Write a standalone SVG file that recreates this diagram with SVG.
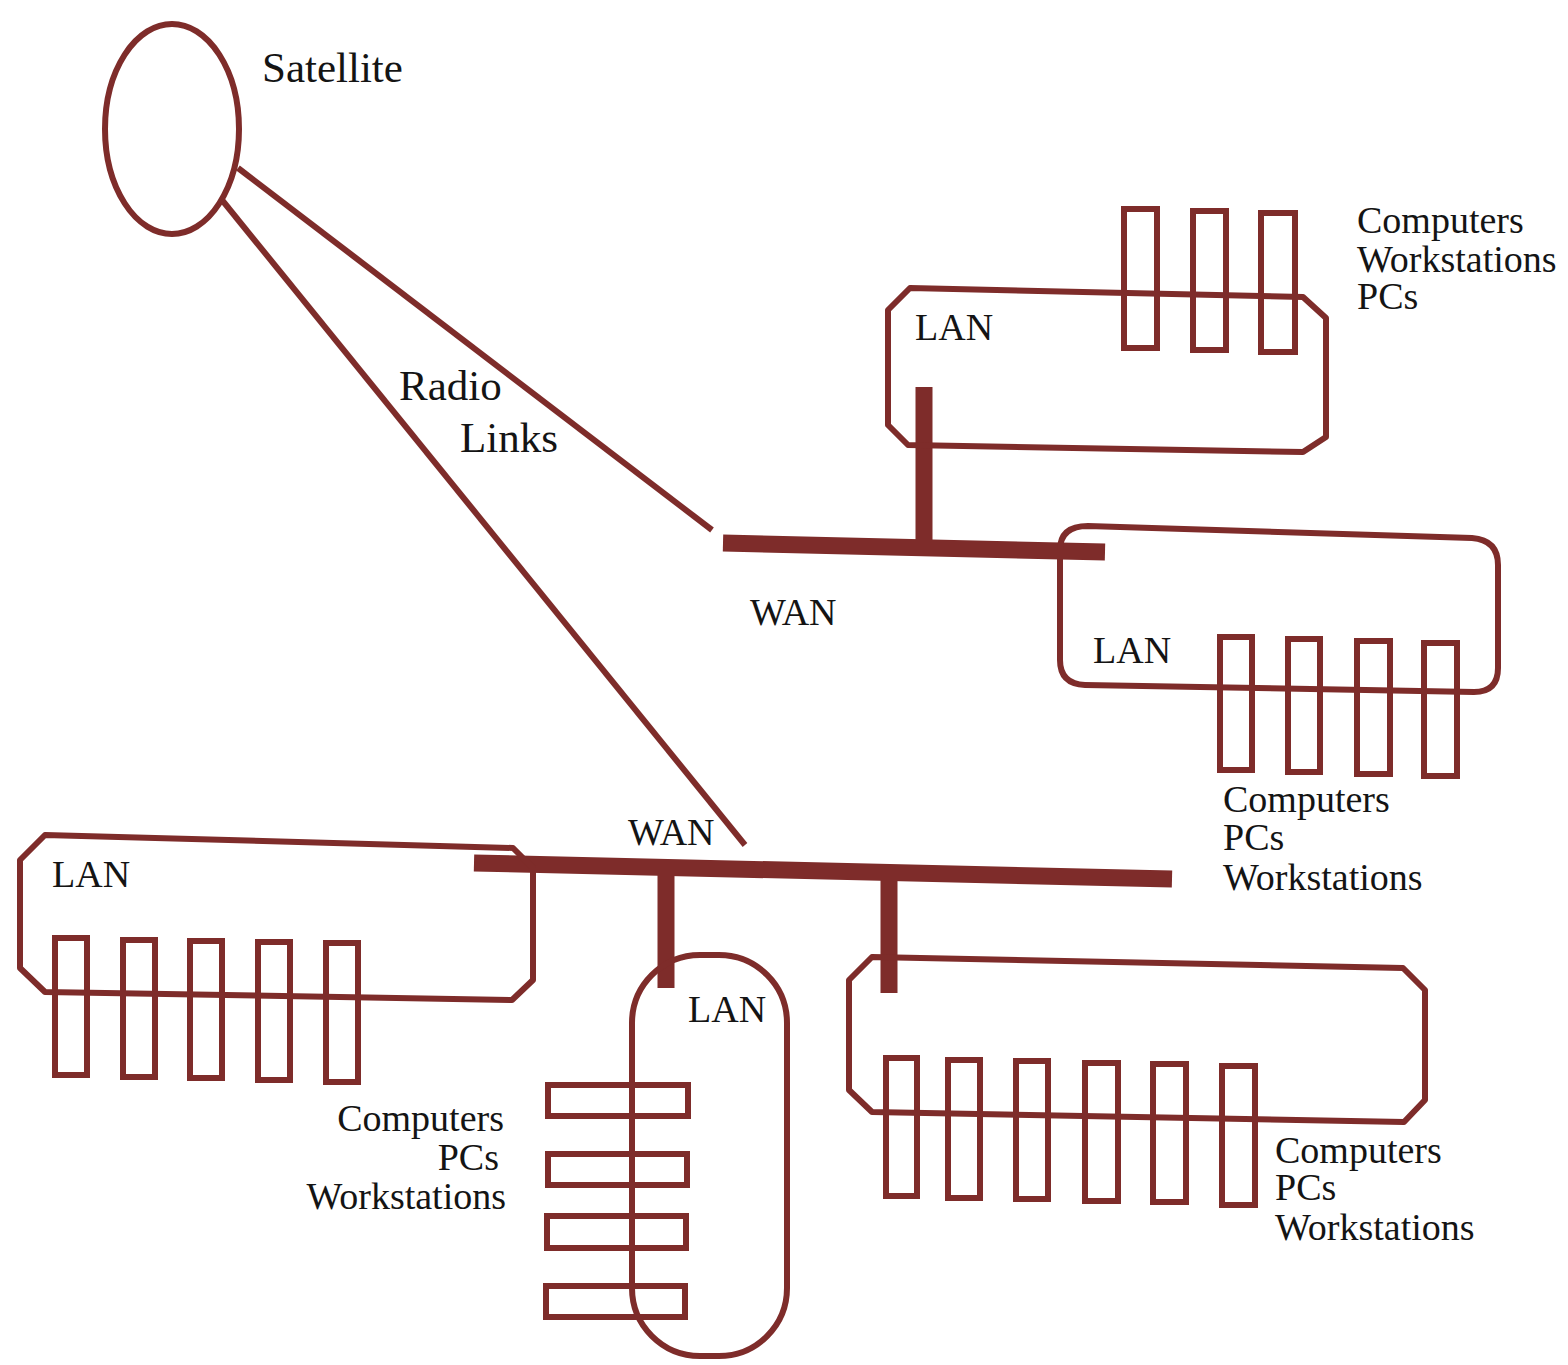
<svg xmlns="http://www.w3.org/2000/svg" width="1568" height="1365" viewBox="0 0 1568 1365">
<style>
.o{fill:none;stroke:#7e2c2a;stroke-width:6;stroke-linejoin:round}
.pc{fill:none;stroke:#7e2c2a;stroke-width:6}
.bar{stroke:#7e2c2a;stroke-width:17;fill:none}
.t{font-family:"Liberation Serif","Times New Roman",serif;font-size:38px;fill:#141414}
.big{font-size:43px}
.e{text-anchor:end}
</style>
<rect width="1568" height="1365" fill="#ffffff"/>
<g id="connectors">
<line class="o" x1="238" y1="168" x2="712" y2="530"/>
<line class="o" x1="222" y1="200" x2="745" y2="845"/>
<line class="bar" x1="723" y1="543" x2="1105" y2="552"/>
<line class="bar" x1="924" y1="387" x2="924" y2="545"/>
<line class="bar" x1="474" y1="863" x2="1172" y2="879"/>
<line class="bar" x1="666" y1="866" x2="666" y2="988"/>
<line class="bar" x1="889" y1="872" x2="889" y2="993"/>
</g>
<g id="satellite">
<ellipse class="o" cx="172" cy="129" rx="67" ry="105"/>
<text class="t big" x="262" y="82">Satellite</text>
</g>
<g id="radio-label">
<text class="t big" x="399" y="400">Radio</text>
<text class="t big" x="460" y="452">Links</text>
</g>
<g id="wan-upper"><text class="t" x="750" y="625">WAN</text></g>
<g id="wan-lower"><text class="t" x="628" y="845">WAN</text></g>
<g id="lan-top">
<path class="o" d="M910,288 L1303,297 L1326,318 L1326,437 L1303,452 L908,445 L888,425 L888,310 Z"/>
<text class="t" x="915" y="340">LAN</text>
<rect class="pc" x="1124" y="209" width="33" height="139"/>
<rect class="pc" x="1193" y="211" width="33" height="139"/>
<rect class="pc" x="1261" y="213" width="34" height="139"/>
<text class="t" x="1357" y="233">Computers</text>
<text class="t" x="1357" y="272">Workstations</text>
<text class="t" x="1357" y="309">PCs</text>
</g>
<g id="lan-right">
<path class="o" d="M1088,526 L1472,538 Q1498,540 1498,565 L1498,668 Q1498,692 1474,692 L1085,685 Q1060,684 1060,660 L1060,550 Q1060,526 1088,526 Z"/>
<text class="t" x="1093" y="663">LAN</text>
<rect class="pc" x="1220" y="637" width="32" height="133"/>
<rect class="pc" x="1288" y="639" width="32" height="133"/>
<rect class="pc" x="1357" y="641" width="33" height="133"/>
<rect class="pc" x="1424" y="643" width="33" height="133"/>
<text class="t" x="1223" y="812">Computers</text>
<text class="t" x="1223" y="850">PCs</text>
<text class="t" x="1223" y="890">Workstations</text>
</g>
<g id="lan-left">
<path class="o" d="M45,835 L513,848 L533,868 L533,980 L512,1000 L45,992 L20,968 L20,860 Z"/>
<text class="t" x="52" y="887">LAN</text>
<rect class="pc" x="55" y="938" width="32" height="137"/>
<rect class="pc" x="123" y="940" width="32" height="137"/>
<rect class="pc" x="190" y="941" width="32" height="137"/>
<rect class="pc" x="258" y="942" width="32" height="138"/>
<rect class="pc" x="326" y="943" width="32" height="139"/>
</g>
<g id="lan-middle">
<rect class="o" x="632" y="955" width="155" height="401" rx="68" ry="68"/>
<text class="t" x="688" y="1022">LAN</text>
<rect class="pc" x="548" y="1085" width="140" height="31"/>
<rect class="pc" x="548" y="1154" width="139" height="31"/>
<rect class="pc" x="547" y="1216" width="139" height="32"/>
<rect class="pc" x="546" y="1286" width="139" height="31"/>
<text class="t e" x="504" y="1131">Computers</text>
<text class="t e" x="499" y="1170">PCs</text>
<text class="t e" x="506" y="1209">Workstations</text>
</g>
<g id="lan-bottom-right">
<path class="o" d="M872,957 L1403,968 L1425,990 L1425,1100 L1404,1122 L872,1112 L849,1090 L849,980 Z"/>
<rect class="pc" x="886" y="1058" width="31" height="138"/>
<rect class="pc" x="948" y="1060" width="32" height="138"/>
<rect class="pc" x="1016" y="1061" width="32" height="138"/>
<rect class="pc" x="1085" y="1063" width="33" height="138"/>
<rect class="pc" x="1153" y="1064" width="33" height="138"/>
<rect class="pc" x="1222" y="1066" width="33" height="139"/>
<text class="t" x="1275" y="1163">Computers</text>
<text class="t" x="1275" y="1200">PCs</text>
<text class="t" x="1275" y="1240">Workstations</text>
</g>
</svg>
